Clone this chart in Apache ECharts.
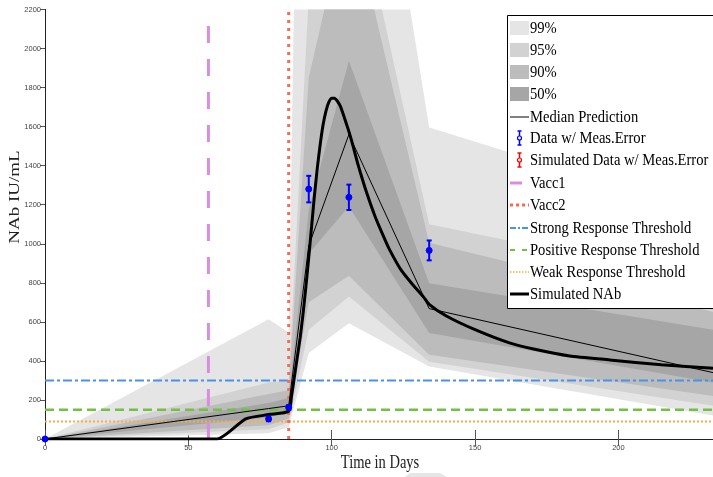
<!DOCTYPE html>
<html><head><meta charset="utf-8">
<script src="https://cdn.jsdelivr.net/npm/echarts@6/dist/echarts.min.js"></script>
<style>html,body{margin:0;padding:0;background:#fff}#c{width:713px;height:477px}</style>
</head><body><div id="c"></div>
<script>
// ---- data ----
const bandDays = [0, 78, 85, 92, 106, 134, 233];
const q99Hi = [0, 614, 545, 7000, 4150, 1595, 1145];
const q99Lo = [0, 30, 60, 440, 593, 371, 120];
const q95Hi = [0, 290, 300, 2270, 2970, 1100, 800];
const q95Lo = [0, 50, 85, 560, 730, 396, 170];
const q90Hi = [0, 230, 250, 1850, 2750, 1005, 650];
const q90Lo = [0, 70, 105, 700, 836, 431, 220];
const q50Hi = [0, 185, 210, 1175, 1938, 798, 560];
const q50Lo = [0, 110, 140, 950, 1191, 543, 290];
const medianDays = [0, 78, 85, 92, 106, 134, 233];
const medianVals = [0, 156, 170, 990, 1560, 668, 340];
const dataDays = [0, 78, 85, 92, 106, 134];
const dataVals = [0, 103, 162, 1280, 1238, 966];
const dataErr = [0, 12, 12, 68, 65, 51];
const simDays = [0, 60, 70, 78, 85, 86, 87, 88, 89, 90, 91, 92, 93, 94, 95, 96, 97, 98, 99, 100, 101, 102, 103, 104, 105, 106, 107, 108, 109, 110, 112, 115, 118, 120, 124, 128, 132, 134, 140, 150, 162, 170, 183, 197, 215, 233];
const simVals = [0, 0, 103, 125, 142, 220, 320, 420, 520, 640, 780, 930, 1090, 1250, 1390, 1510, 1610, 1680, 1725, 1745, 1745, 1730, 1705, 1665, 1620, 1575, 1525, 1470, 1415, 1365, 1270, 1145, 1040, 975, 870, 795, 728, 690, 630, 560, 492, 462, 425, 405, 380, 362];
const vacc1Day = 57, vacc1Top = 2120;
const vacc2Day = 85;
const strongThr = 300, positiveThr = 150, weakThr = 90;
const legendLabels = ['99%', '95%', '90%', '50%', 'Median Prediction', 'Data w/ Meas.Error', 'Simulated Data w/ Meas.Error', 'Vacc1', 'Vacc2', 'Strong Response Threshold', 'Positive Response Threshold', 'Weak Response Threshold', 'Simulated NAb'];
const xName = 'Time in Days', yName = 'NAb IU/mL';

const X_MIN = 0, X_MAX = 233, Y_MIN = 0, Y_MAX = 2200;
const C99 = '#e5e5e5', C95 = '#d2d2d2', C90 = '#bcbcbc', C50 = '#a6a6a6';
const VIOLET = '#da8de0', RED = '#f96b52', BLUE = '#4a92e3', GREEN = '#73bf47', ORANGE = '#f9ad42';
const SERIF = '"Liberation Serif", "DejaVu Serif", serif';

const zip = (xs, ys) => xs.map((x, i) => [x, ys[i]]);
function band(lo, hi, color) {
  return {
    type: 'custom', z: 1, silent: true,
    data: bandDays.map((d, i) => [d, lo[i], hi[i]]),
    renderItem: function (params, api) {
      if (params.dataIndex !== 0) return null;
      const pts = [];
      for (let i = 0; i < bandDays.length; i++) pts.push(api.coord([bandDays[i], hi[i]]));
      for (let i = bandDays.length - 1; i >= 0; i--) pts.push(api.coord([bandDays[i], lo[i]]));
      const cs = params.coordSys;
      return {type: 'polygon', shape: {points: pts}, style: {fill: color, stroke: null},
        clipPath: {type: 'rect', shape: {x: cs.x, y: cs.y, width: cs.width, height: cs.height}}};
    }
  };
}
function hline(y, color, type, width) {
  return {type: 'line', data: [[X_MIN, y], [X_MAX, y]], symbol: 'none', lineStyle: {color: color, type: type, width: width}, silent: true, z: 5};
}

const series = [
  band(q99Lo, q99Hi, C99),
  band(q95Lo, q95Hi, C95),
  band(q90Lo, q90Hi, C90),
  band(q50Lo, q50Hi, C50),
  hline(strongThr, BLUE, [9, 3, 3, 3], 2),
  hline(positiveThr, GREEN, [9, 5], 2.5),
  hline(weakThr, ORANGE, [2, 2], 2),
  {type: 'line', data: [[vacc1Day, 0], [vacc1Day, vacc1Top]], symbol: 'none', lineStyle: {color: VIOLET, type: [17, 16], width: 3}, silent: true, z: 5},
  {type: 'line', data: [[vacc2Day, 0], [vacc2Day, Y_MAX]], symbol: 'none', lineStyle: {color: RED, type: [3, 5], width: 3}, silent: true, z: 5},
  {type: 'line', data: zip(medianDays, medianVals), symbol: 'none', lineStyle: {color: '#000', width: 1}, silent: true, z: 6},
  {type: 'line', data: zip(simDays, simVals), symbol: 'none', smooth: 0.2, lineStyle: {color: '#000', width: 3}, silent: true, z: 7},
  {type: 'custom', z: 8, silent: true,
    data: dataDays.map((d, i) => [d, dataVals[i], dataErr[i]]),
    renderItem: function (params, api) {
      const x = api.value(0), y = api.value(1), e = api.value(2);
      const c = api.coord([x, y]);
      const top = api.coord([x, y + e]);
      const bot = api.coord([x, y - e]);
      const cap = 2.5;
      const st = {stroke: '#0000ff', lineWidth: 2, fill: null};
      return {type: 'group', children: [
        {type: 'line', shape: {x1: c[0], y1: top[1], x2: c[0], y2: bot[1]}, style: st},
        {type: 'line', shape: {x1: c[0] - cap, y1: top[1], x2: c[0] + cap, y2: top[1]}, style: st},
        {type: 'line', shape: {x1: c[0] - cap, y1: bot[1], x2: c[0] + cap, y2: bot[1]}, style: st},
        {type: 'circle', shape: {cx: c[0], cy: c[1], r: 3}, style: {fill: '#0000ff', stroke: '#0000ff', lineWidth: 1}}
      ]};
    }
  }
];

// legend & axis names drawn as graphics
const LX = 507, LY = 15, LW = 210, LH = 293;
const rowY = [28, 50, 72, 94, 117, 138, 160, 183, 205, 228, 250, 272, 294];
const lg = [];
const Z = 100;
lg.push({type: 'rect', z: Z, shape: {x: LX + 0.5, y: LY + 0.5, width: LW, height: LH}, style: {fill: '#fff', stroke: '#000', lineWidth: 1}});
const ix0 = 510, ix1 = 529;
[C99, C95, C90, C50].forEach((c, i) => lg.push({type: 'rect', z: Z + 1, shape: {x: ix0, y: rowY[i] - 7, width: ix1 - ix0, height: 14}, style: {fill: c}}));
function ln(y, x2, stroke, w, dash) {
  lg.push({type: 'line', z: Z + 1, shape: {x1: ix0, y1: y, x2: x2, y2: y}, style: {stroke: stroke, lineWidth: w, lineDash: dash || null}});
}
ln(rowY[4], ix1, '#000', 1);
function ebIcon(y, col) {
  const st = {stroke: col, lineWidth: 1.5, fill: null};
  lg.push({type: 'line', z: Z + 1, shape: {x1: 519.5, y1: y - 7, x2: 519.5, y2: y + 7}, style: st});
  lg.push({type: 'line', z: Z + 1, shape: {x1: 517.5, y1: y - 7, x2: 521.5, y2: y - 7}, style: st});
  lg.push({type: 'line', z: Z + 1, shape: {x1: 517.5, y1: y + 7, x2: 521.5, y2: y + 7}, style: st});
  lg.push({type: 'circle', z: Z + 2, shape: {cx: 519.5, cy: y, r: 2}, style: {fill: '#fff', stroke: col, lineWidth: 1.2}});
}
ebIcon(rowY[5], '#0000ff');
ebIcon(rowY[6], '#ff0000');
ln(rowY[7], 522, VIOLET, 3);
ln(rowY[8], ix1, RED, 3, [3, 3]);
ln(rowY[9], ix1, BLUE, 2, [6, 2, 2, 2]);
ln(rowY[10], ix1, GREEN, 2, [5, 7]);
ln(rowY[11], ix1, ORANGE, 1.5, [1.5, 1.5]);
ln(rowY[12], ix1, '#000', 3);
legendLabels.forEach((t, i) => lg.push({type: 'text', z: Z + 2, x: 530, y: rowY[i], scaleY: 1.2,
  style: {text: t, fill: '#000', font: '14.6px ' + SERIF, verticalAlign: 'middle', align: 'left'}}));
lg.push({type: 'text', z: Z, x: 380, y: 463, scaleY: 1.25, style: {text: xName, fill: '#222', font: '14.5px ' + SERIF, verticalAlign: 'middle', align: 'center'}});
lg.push({type: 'text', z: Z, x: 15, y: 197, rotation: Math.PI / 2, scaleY: 0.8, style: {text: yName, fill: '#222', font: '19px ' + SERIF, verticalAlign: 'middle', align: 'center'}});
lg.push({type: 'polygon', z: Z, shape: {points: [[410, 473], [440, 473], [447, 477], [405, 477]]}, style: {fill: '#e6e6e6'}});

const chart = echarts.init(document.getElementById('c'), null, {renderer: 'canvas'});
const plain = v => String(v);
chart.setOption({
  animation: false,
  backgroundColor: '#fff',
  grid: {left: 45, right: 0, top: 9.5, bottom: 38, containLabel: false, outerBoundsMode: 'none'},
  xAxis: [
    {type: 'value', min: X_MIN, max: X_MAX, interval: 50,
      axisLine: {lineStyle: {color: '#222'}}, axisTick: {inside: true, length: 9, lineStyle: {color: '#555'}},
      axisLabel: {fontSize: 7.5, color: '#444', margin: 5, showMaxLabel: false, fontFamily: 'Liberation Sans', formatter: plain}, splitLine: {show: false}},
    {type: 'value', min: X_MIN, max: X_MAX, interval: 50, position: 'top',
      axisLine: {lineStyle: {color: '#222'}}, axisTick: {inside: true, length: 7, lineStyle: {color: '#555'}},
      axisLabel: {show: false}, splitLine: {show: false}}
  ],
  yAxis: [
    {type: 'value', min: Y_MIN, max: Y_MAX, interval: 200,
      axisLine: {show: true, lineStyle: {color: '#222'}}, axisTick: {show: true, inside: false, length: 3, lineStyle: {color: '#555'}},
      axisLabel: {fontSize: 7.5, color: '#444', margin: 4, fontFamily: 'Liberation Sans', formatter: plain}, splitLine: {show: false}},
    {type: 'value', min: Y_MIN, max: Y_MAX, interval: 200, position: 'right',
      axisLine: {show: true, lineStyle: {color: '#222'}}, axisTick: {show: true, inside: true, length: 5, lineStyle: {color: '#555'}},
      axisLabel: {show: false}, splitLine: {show: false}}
  ],
  series: series,
  graphic: lg
});
</script></body></html>
